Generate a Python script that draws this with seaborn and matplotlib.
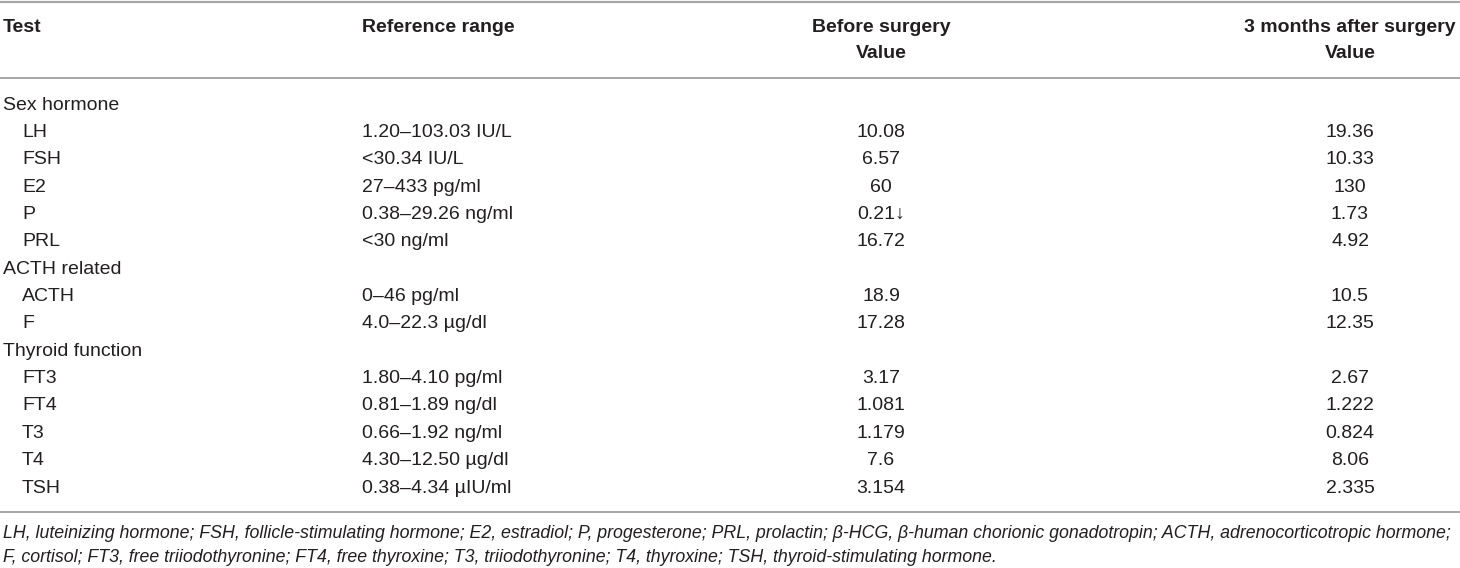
import matplotlib
matplotlib.use("Agg")
import matplotlib.pyplot as plt
import seaborn as sns
import pandas as pd

# table content
col_headers = ["Test", "Reference range", "Before surgery\nValue", "3 months after surgery\nValue"]
groups = ["Sex hormone", "ACTH related", "Thyroid function"]
group_tests = [
    ["LH", "FSH", "E2", "P", "PRL"],
    ["ACTH", "F"],
    ["FT3", "FT4", "T3", "T4", "TSH"],
]
ref_ranges = [
    "1.20–103.03 IU/L", "<30.34 IU/L", "27–433 pg/ml", "0.38–29.26 ng/ml", "<30 ng/ml",
    "0–46 pg/ml", "4.0–22.3 µg/dl",
    "1.80–4.10 pg/ml", "0.81–1.89 ng/dl", "0.66–1.92 ng/ml", "4.30–12.50 µg/dl", "0.38–4.34 µIU/ml",
]
before_vals = ["10.08", "6.57", "60", "0.21↓", "16.72", "18.9", "17.28",
               "3.17", "1.081", "1.179", "7.6", "3.154"]
after_vals = ["19.36", "10.33", "130", "1.73", "4.92", "10.5", "12.35",
              "2.67", "1.222", "0.824", "8.06", "2.335"]
footnote = ("LH, luteinizing hormone; FSH, follicle-stimulating hormone; E2, estradiol; P, progesterone; "
            "PRL, prolactin; β-HCG, β-human chorionic gonadotropin; ACTH, adrenocorticotropic hormone;\n"
            "F, cortisol; FT3, free triiodothyronine; FT4, free thyroxine; T3, triiodothyronine; "
            "T4, thyroxine; TSH, thyroid-stimulating hormone.")

# build row list (group headers + indented tests)
rows = []
k = 0
for g, tests in zip(groups, group_tests):
    rows.append({"label": g, "indent": False, "ref": "", "before": "", "after": ""})
    for t in tests:
        rows.append({"label": t, "indent": True, "ref": ref_ranges[k],
                     "before": before_vals[k], "after": after_vals[k]})
        k += 1
df = pd.DataFrame(rows)

sns.set_theme(style="white")
plt.rcParams["font.family"] = ["Liberation Sans", "DejaVu Sans"]
txt = "#231f20"
line_c = "#a6a6a6"

fig = plt.figure(figsize=(14.6, 5.68), dpi=100)
ax = fig.add_axes([0, 0, 1, 1])
ax.set_xlim(0, 1460)
ax.set_ylim(568, 0)
ax.axis("off")

fs = 14
# rules
for y, lw in [(1.5, 1.6), (78, 1.4), (512, 1.4)]:
    ax.plot([0, 1460], [y, y], color=line_c, lw=lw, solid_capstyle="butt")

# header
ax.text(3, 27, col_headers[0], fontsize=fs, fontweight="bold", color=txt, va="center", ha="left")
ax.text(362, 27, col_headers[1], fontsize=fs, fontweight="bold", color=txt, va="center", ha="left")
for x, h in [(881, col_headers[2]), (1350, col_headers[3])]:
    top, bottom = h.split("\n")
    ax.text(x, 27, top, fontsize=fs, fontweight="bold", color=txt, va="center", ha="center")
    ax.text(x, 54, bottom, fontsize=fs, fontweight="bold", color=txt, va="center", ha="center")

# body
y0, dy = 105, 27.36
for i, r in df.iterrows():
    y = y0 + dy * i
    ax.text(22 if r["indent"] else 3, y, r["label"], fontsize=fs, color=txt, va="center", ha="left")
    ax.text(362, y, r["ref"], fontsize=fs, color=txt, va="center", ha="left")
    ax.text(881, y, r["before"], fontsize=fs, color=txt, va="center", ha="center")
    ax.text(1350, y, r["after"], fontsize=fs, color=txt, va="center", ha="center")

# footnote
for j, line in enumerate(footnote.split("\n")):
    ax.text(3, 533 + 25 * j, line, fontsize=12.8, style="italic", color=txt, va="center", ha="left")

fig.savefig("out.png", dpi=100, facecolor="white")
